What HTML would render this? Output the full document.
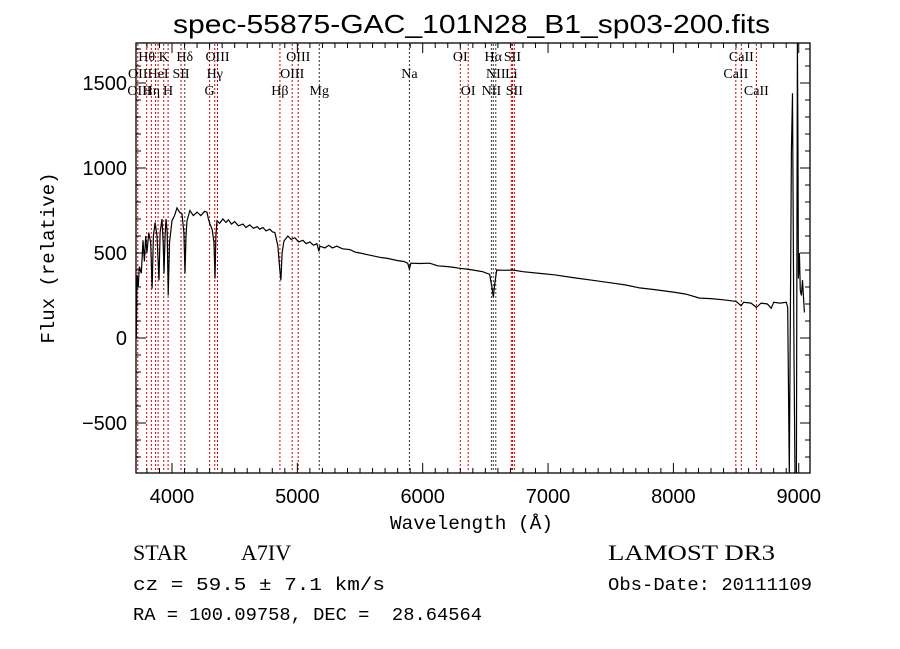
<!DOCTYPE html>
<html><head><meta charset="utf-8"><style>
html,body{margin:0;padding:0;background:#fff;}
svg{display:block;}
.t{font-family:"Liberation Serif",serif;font-size:14px;fill:#000;}
</style></head><body>
<svg id="chart" width="900" height="649" viewBox="0 0 900 649" xmlns="http://www.w3.org/2000/svg">
<rect width="900" height="649" fill="#fff"/>
<text x="173" y="33" textLength="597" lengthAdjust="spacingAndGlyphs" font-family="Liberation Sans, sans-serif" font-size="26">spec-55875-GAC_101N28_B1_sp03-200.fits</text>
<text x="390" y="529" textLength="163" lengthAdjust="spacingAndGlyphs" font-family="Liberation Mono, monospace" font-size="19">Wavelength (Å)</text>
<text transform="translate(54,258) rotate(-90)" text-anchor="middle" font-family="Liberation Mono, monospace" font-size="19">Flux (relative)</text>
<g id="lines"></g>
<g id="labels"></g>
<g id="ticks"></g>
<path id="spec" fill="none" stroke="#000" stroke-width="1.2" clip-path="url(#clip)"/>
<defs><clipPath id="clip"><rect x="136" y="43" width="674" height="430"/></clipPath></defs>
<rect x="136" y="43" width="674" height="430" fill="none" stroke="#000" stroke-width="1.3"/>
<text x="133" y="560" font-family="Liberation Serif, serif" font-size="22">STAR</text>
<text x="241" y="560" font-family="Liberation Serif, serif" font-size="22">A7IV</text>
<text x="133" y="590" textLength="252" lengthAdjust="spacingAndGlyphs" font-family="Liberation Mono, monospace" font-size="18">cz = 59.5 ± 7.1 km/s</text>
<text x="133" y="620" textLength="349" lengthAdjust="spacingAndGlyphs" font-family="Liberation Mono, monospace" font-size="18" xml:space="preserve">RA = 100.09758, DEC =  28.64564</text>
<text x="608" y="560" textLength="167" lengthAdjust="spacingAndGlyphs" font-family="Liberation Serif, serif" font-size="22">LAMOST DR3</text>
<text x="608" y="590" textLength="204" lengthAdjust="spacingAndGlyphs" font-family="Liberation Mono, monospace" font-size="18">Obs-Date: 20111109</text>
</svg>
<script>
const wavelengths=[3715,3718,3721,3730,3740,3755,3769,3780,3790,3800,3815,3830,3841,3852,3865,3880,3896,3905,3920,3930,3936,3945,3952,3962,3970,3980,4000,4020,4040,4060,4080,4095,4104,4112,4120,4143,4170,4200,4230,4260,4279,4290,4303,4320,4335,4343,4350,4359,4380,4406,4430,4450,4475,4500,4530,4566,4590,4620,4650,4680,4700,4725,4750,4780,4800,4821,4845,4860,4869,4878,4893,4925,4950,4980,5010,5044,5070,5100,5130,5156,5172,5180,5220,5250,5280,5315,5360,5419,5460,5500,5560,5658,5720,5800,5850,5880,5894,5905,5980,6056,6120,6200,6250,6295,6350,6400,6440,6479,6534,6552,6563,6575,6590,6650,6718,6800,6933,7050,7200,7350,7500,7620,7730,7850,8000,8100,8208,8300,8400,8500,8540,8560,8620,8662,8700,8750,8780,8800,8850,8901,8912,8925,8935,8941,8950,8955,8962,8970,8981,8989,8993,8997,9005,9012,9021,9030,9045];
const fluxes=[0,200,370,300,420,380,575,450,600,500,620,560,290,600,680,600,340,620,700,560,380,600,700,620,250,560,690,720,765,740,730,620,380,600,690,750,720,740,720,745,740,700,670,640,560,350,600,690,675,700,680,695,670,685,660,670,650,665,645,655,640,650,630,640,625,620,540,400,340,500,570,600,580,590,565,575,555,565,545,555,510,540,530,545,530,540,525,520,505,500,490,475,468,455,450,440,405,440,438,440,425,420,415,410,405,400,395,390,375,300,240,320,400,398,400,390,380,372,355,340,325,312,295,285,270,258,235,232,225,215,190,210,205,180,205,200,175,210,205,210,180,-800,340,1100,1440,800,-100,-800,-800,1735,1200,350,500,280,250,340,150];
const lineWl=[3727,3798,3835,3869,3889,3934,3969,4072,4102,4300,4341,4363,4861,4959,5007,5175,5894,6300,6363,6548,6563,6583,6707,6716,6731,8498,8542,8662];
const lineDark=[0,0,0,0,0,0,0,0,1,0,0,0,0,0,0,1,1,0,0,1,1,1,0,0,0,0,0,0];
const labelText=["Hθ","K","Hδ","OIII","OIII","OI","Hα","SII","CaII","OII","HeI","SII","Hγ","OIII","Na","NII","Li","CaII","OIII","Hη","H","G","Hβ","Mg","OI","NII","SII","CaII"];
const labelWl=[3798,3934,4102,4363,5007,6300,6563,6716,8542,3727,3889,4072,4341,4959,5894,6583,6707,8498,3740,3835,3969,4300,4861,5175,6363,6548,6731,8662];
const labelRow=[0,0,0,0,0,0,0,0,0,1,1,1,1,1,1,1,1,1,2,2,2,2,2,2,2,2,2,2];
const xTicks=[4000,5000,6000,7000,8000,9000];
const yTicks=[-500,0,500,1000,1500];
const X=w=>172+(w-4000)*0.12535;
const Y=f=>338-f*0.17;
const NS="http://www.w3.org/2000/svg";
function mk(tag,attrs,parent){const e=document.createElementNS(NS,tag);for(const k in attrs)e.setAttribute(k,attrs[k]);parent.appendChild(e);return e;}
const gl=document.getElementById('lines'),glab=document.getElementById('labels'),gt=document.getElementById('ticks');
lineWl.forEach((w,i)=>{const l=mk('line',{x1:X(w),x2:X(w),y1:44,y2:472,stroke:lineDark[i]?'#333':'#c00','stroke-width':1,'stroke-dasharray':'2,2'},gl);

});
labelText.forEach((s,i)=>{const t=mk('text',{x:X(labelWl[i]),y:61+labelRow[i]*17,'text-anchor':'middle',class:'t'},glab);t.textContent=s;

});
let d='';wavelengths.forEach((w,i)=>{d+=(i?'L':'M')+X(w).toFixed(1)+','+Y(fluxes[i]).toFixed(1);});
document.getElementById('spec').setAttribute('d',d);
for(let w=3800;w<=9000;w+=100){const maj=w%1000===0;const L=maj?10:5;
mk('line',{x1:X(w),x2:X(w),y1:473,y2:473-L,stroke:'#000'},gt);
mk('line',{x1:X(w),x2:X(w),y1:43,y2:43+L,stroke:'#000'},gt);}
xTicks.forEach(w=>{const t=mk('text',{x:X(w),y:503,'text-anchor':'middle','font-family':'Liberation Sans, sans-serif','font-size':20},gt);t.textContent=w;

});
for(let f=-700;f<=1700;f+=100){const maj=f%500===0;const L=maj?10:5;
mk('line',{x1:136,x2:136+L,y1:Y(f),y2:Y(f),stroke:'#000'},gt);
mk('line',{x1:810,x2:810-L,y1:Y(f),y2:Y(f),stroke:'#000'},gt);}
yTicks.forEach(f=>{const t=mk('text',{x:127,y:Y(f)+7,'text-anchor':'end','font-family':'Liberation Sans, sans-serif','font-size':20},gt);t.textContent=f<0?'\u2212'+(-f):f;

});
</script>
</body></html>
